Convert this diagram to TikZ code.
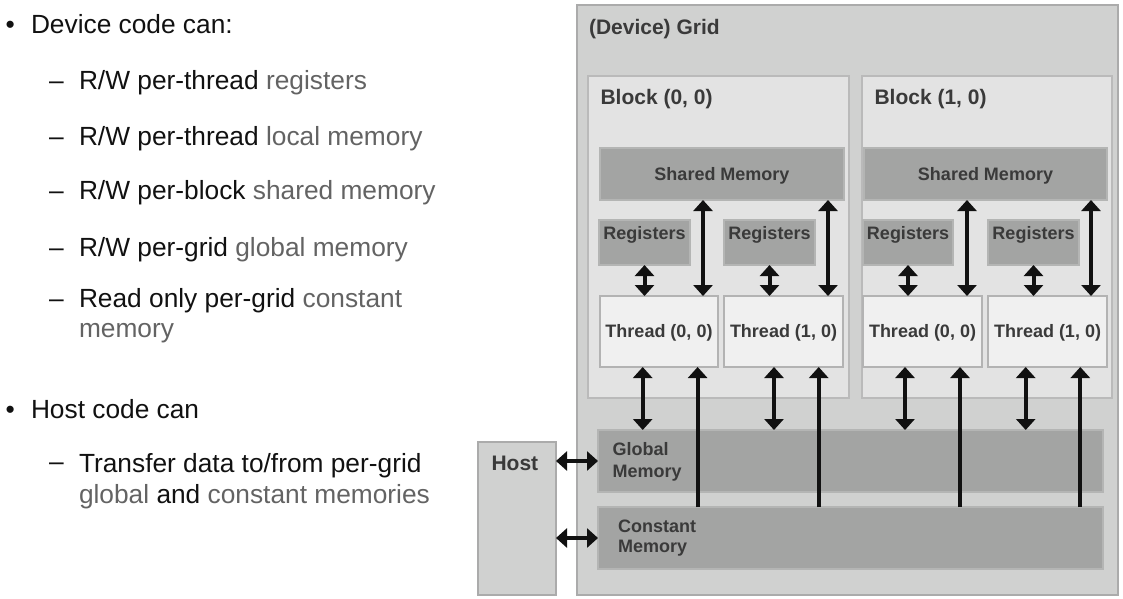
\documentclass[tikz,border=0pt]{standalone}
\usepackage{fontspec}
\setmainfont{Liberation Sans}
\usetikzlibrary{arrows.meta,calc}
\definecolor{gridfill}{HTML}{D0D1D0}
\definecolor{gridborder}{HTML}{ABABAB}
\definecolor{blockfill}{HTML}{E3E3E3}
\definecolor{blockborder}{HTML}{BABABA}
\definecolor{memfill}{HTML}{A3A4A3}
\definecolor{memborder}{HTML}{B4B5B4}
\definecolor{thrfill}{HTML}{F0F0F0}
\definecolor{thrborder}{HTML}{B3B3B3}
\definecolor{lblc}{HTML}{3A3A3A}
\definecolor{arrowc}{HTML}{111111}
\definecolor{tblack}{HTML}{111111}
\definecolor{tgray}{HTML}{636363}
\newcommand{\gr}[1]{\textcolor{tgray}{#1}}
\begin{document}
\begin{tikzpicture}[x=1pt,y=-1pt,
  box/.style={draw, inner sep=0pt, outer sep=0pt, anchor=north west},
  gridbox/.style={box, fill=gridfill, draw=gridborder, line width=2pt},
  blockbox/.style={box, fill=blockfill, draw=blockborder, line width=1.8pt},
  membox/.style={box, fill=memfill, draw=memborder, line width=1.2pt},
  thrbox/.style={box, fill=thrfill, draw=thrborder, line width=1.8pt},
  biglbl/.style={inner sep=0pt, outer sep=0pt, text=lblc, font=\fontsize{21}{25}\selectfont\bfseries},
  smlbl/.style={inner sep=0pt, outer sep=0pt, text=lblc, font=\fontsize{18}{22}\selectfont\bfseries},
  txt/.style={anchor=base west, inner sep=0pt, outer sep=0pt, text=tblack, font=\fontsize{26.3}{30}\selectfont},
  tip/.tip={Triangle[width=19pt,length=11pt]},
  arr/.style={line width=4pt, draw=arrowc, tip-tip},
  uparr/.style={line width=4pt, draw=arrowc, -tip}
]
\useasboundingbox (0,0) rectangle (1123,598);

% ---------- left text ----------
\node[txt] (b1) at (5.7,33) {•};
\node[txt] (t1) at (31,33) {Device code can:};
\node[txt] (d2) at (49,89) {–};
\node[txt] (t2) at (79,89) {R/W per-thread \gr{registers}};
\node[txt] (d3) at (49,145) {–};
\node[txt] (t3) at (79,145) {R/W per-thread \gr{local memory}};
\node[txt] (d4) at (49,199) {–};
\node[txt] (t4) at (79,199) {R/W per-block \gr{shared memory}};
\node[txt] (d5) at (49,256) {–};
\node[txt] (t5) at (79,256) {R/W per-grid \gr{global memory}};
\node[txt] (d6) at (49,307) {–};
\node[txt] (t6) at (79,307) {Read only per-grid \gr{constant}};
\node[txt] (t6b) at (79,337) {\gr{memory}};
\node[txt] (b7) at (5.7,418) {•};
\node[txt] (t7) at (31,418) {Host code can};
\node[txt] (d8) at (49,470) {–};
\node[txt] (t8) at (79,472) {Transfer data to/from per-grid};
\node[txt] (t8b) at (79,503) {\gr{global} and \gr{constant memories}};

% ---------- boxes ----------
\node[gridbox, minimum width=541, minimum height=590] (grid) at (577,5) {};
\node[box, fill=gridfill, draw=gridborder, line width=2pt, minimum width=78, minimum height=153] (host) at (478,442) {};
\node[blockbox, minimum width=261, minimum height=322] (blk0) at (588,76) {};
\node[blockbox, minimum width=250, minimum height=322] (blk1) at (862,76) {};
\node[membox, minimum width=244, minimum height=52] (sm0) at (600,148) {};
\node[membox, minimum width=243, minimum height=52] (sm1) at (864,148) {};
\node[membox, minimum width=91, minimum height=45] (reg00) at (599,220) {};
\node[membox, minimum width=91, minimum height=45] (reg01) at (724,220) {};
\node[membox, minimum width=90, minimum height=45] (reg10) at (863,220) {};
\node[membox, minimum width=91, minimum height=45] (reg11) at (988,220) {};
\node[thrbox, minimum width=118, minimum height=71] (thr00) at (600,296) {};
\node[thrbox, minimum width=119, minimum height=71] (thr01) at (724,296) {};
\node[thrbox, minimum width=119, minimum height=71] (thr10) at (863,296) {};
\node[thrbox, minimum width=119, minimum height=71] (thr11) at (988,296) {};
\node[membox, minimum width=505, minimum height=62] (glob) at (598,430) {};
\node[membox, minimum width=505, minimum height=62] (cons) at (598,507) {};

% ---------- labels ----------
\node[biglbl, anchor=base west] (lgrid) at (589,34) {(Device) Grid};
\node[biglbl, anchor=base west] (lblk0) at (600.5,104) {Block (0, 0)};
\node[biglbl, anchor=base west] (lblk1) at (874.5,104) {Block (1, 0)};
\node[biglbl, anchor=base west] (lhost) at (491.5,470) {Host};
\node[smlbl, anchor=base] (lsm0) at ([yshift=-6.5pt]sm0.center) {Shared Memory};
\node[smlbl, anchor=base] (lsm1) at ([yshift=-6.5pt]sm1.center) {Shared Memory};
\node[smlbl, anchor=base] (lr00) at ([yshift=-19pt]reg00.north) {Registers};
\node[smlbl, anchor=base] (lr01) at ([yshift=-19pt]reg01.north) {Registers};
\node[smlbl, anchor=base] (lr10) at ([yshift=-19pt]reg10.north) {Registers};
\node[smlbl, anchor=base] (lr11) at ([yshift=-19pt]reg11.north) {Registers};
\node[smlbl, anchor=base] (lt00) at ([yshift=-5.5pt]thr00.center) {Thread (0, 0)};
\node[smlbl, anchor=base] (lt01) at ([yshift=-5.5pt]thr01.center) {Thread (1, 0)};
\node[smlbl, anchor=base] (lt10) at ([yshift=-5.5pt]thr10.center) {Thread (0, 0)};
\node[smlbl, anchor=base] (lt11) at ([yshift=-5.5pt]thr11.center) {Thread (1, 0)};
\node[smlbl, anchor=north west, align=left, font=\fontsize{18}{22.3}\selectfont\bfseries] (lglob) at (612.5,442) {Global\\Memory};
\node[smlbl, anchor=north west, align=left, font=\fontsize{18}{20.6}\selectfont\bfseries] (lcons) at (618,519.5) {Constant\\Memory};

% ---------- connectors ----------
% registers <-> threads
\draw[arr] (reg00.south) -- (reg00.south |- thr00.north);
\draw[arr] (reg01.south) -- (reg01.south |- thr01.north);
\draw[arr] (reg10.south) -- (reg10.south |- thr10.north);
\draw[arr] (reg11.south) -- (reg11.south |- thr11.north);
% threads <-> shared memory
\coordinate (s00) at ($(thr00.north east)+(-15,0)$);
\coordinate (s01) at ($(thr01.north east)+(-15,0)$);
\coordinate (s10) at ($(thr10.north east)+(-15,0)$);
\coordinate (s11) at ($(thr11.north east)+(-16,0)$);
\draw[arr] (s00) -- (s00 |- sm0.south);
\draw[arr] (s01) -- (s01 |- sm0.south);
\draw[arr] (s10) -- (s10 |- sm1.south);
\draw[arr] (s11) -- (s11 |- sm1.south);
% threads <-> global memory
\coordinate (g00) at ($(thr00.south west)+(42.7,0)$);
\coordinate (g01) at ($(thr01.south west)+(50,0)$);
\coordinate (g10) at ($(thr10.south west)+(42,0)$);
\coordinate (g11) at ($(thr11.south west)+(37.7,0)$);
\draw[arr] (g00) -- (g00 |- glob.north);
\draw[arr] (g01) -- (g01 |- glob.north);
\draw[arr] (g10) -- (g10 |- glob.north);
\draw[arr] (g11) -- (g11 |- glob.north);
% constant memory -> threads
\coordinate (c00) at ($(thr00.south east)+(-20.4,0)$);
\coordinate (c01) at ($(thr01.south east)+(-24.3,0)$);
\coordinate (c10) at ($(thr10.south east)+(-22,0)$);
\coordinate (c11) at ($(thr11.south east)+(-26.7,0)$);
\draw[uparr] (c00 |- cons.north) -- (c00);
\draw[uparr] (c01 |- cons.north) -- (c01);
\draw[uparr] (c10 |- cons.north) -- (c10);
\draw[uparr] (c11 |- cons.north) -- (c11);
% host <-> memories
\draw[arr] (glob.west -| host.east) -- (glob.west);
\draw[arr] (cons.west -| host.east) -- (cons.west);
\end{tikzpicture}
\end{document}
